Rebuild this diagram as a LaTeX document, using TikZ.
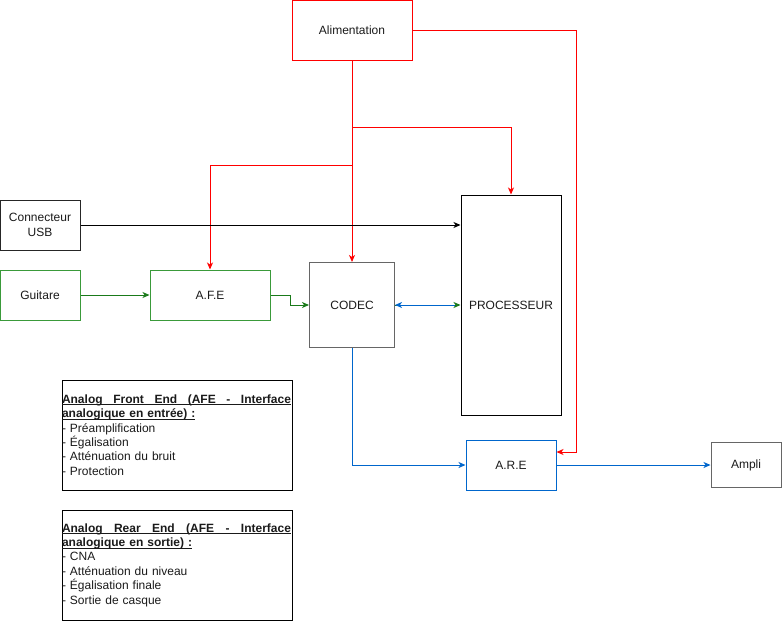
\documentclass[tikz,border=0pt]{standalone}
\usepackage{fontspec}
\setmainfont{Liberation Sans}
\usetikzlibrary{arrows.meta}
\definecolor{cred}{HTML}{FF0000}
\definecolor{cgreenbox}{HTML}{3A9A3A}
\definecolor{cgreen}{HTML}{1A7A1A}
\definecolor{cblue}{HTML}{0066CC}
\definecolor{cgray}{HTML}{666666}
\definecolor{ctext}{HTML}{1A1A1A}
\newcommand{\myul}[1]{\leavevmode\setbox0\hbox{#1}\rlap{\rule[-1.8pt]{\wd0}{0.8pt}}\box0}
\newcommand{\ulbox}[1]{\myul{\hbox to 229pt{#1}}}
\begin{document}
\begin{tikzpicture}[x=1pt,y=-1pt,
  font=\fontsize{12}{14.4}\selectfont,
  box/.style={draw, line width=1pt, rectangle, align=center, text=ctext, inner sep=2pt},
  note/.style={draw=black, line width=1pt, rectangle, text width=230pt, minimum height=110pt, inner sep=0pt, align=left, text=ctext},
  conn/.style={line width=1pt, -{Stealth[length=7pt,width=6pt,inset=2pt]}},
]
\useasboundingbox (0,0) rectangle (783,621);

\node[box, draw=cred, minimum width=120pt, minimum height=60pt] (alim) at (352,30) {Alimentation};
\node[box, draw=black!85, minimum width=80pt, minimum height=50pt] (usb) at (40,225) {Connecteur\\USB};
\node[box, draw=cgreenbox, minimum width=80pt, minimum height=50pt] (guit) at (40,295) {Guitare};
\node[box, draw=cgreenbox, minimum width=120pt, minimum height=50pt] (afe) at (210,295) {A.F.E};
\node[box, draw=cgray, minimum width=85pt, minimum height=85pt] (codec) at (352,305) {CODEC};
\node[box, draw=black, minimum width=100pt, minimum height=220pt] (proc) at (511,305) {PROCESSEUR};
\node[box, draw=cblue, minimum width=90pt, minimum height=50pt] (are) at (511,465) {A.R.E};
\node[box, draw=cgray, minimum width=70pt, minimum height=45pt] (ampli) at (746,465) {Ampli};

\node[note] (n1) at (177,435) {
{\bfseries\ulbox{Analog\hfill Front\hfill End\hfill (AFE\hfill -\hfill Interface}}\\
{\bfseries\myul{analogique en entrée) :}}\\
- Préamplification\\
- Égalisation\\
- Atténuation du bruit\\
- Protection};
\node[note] (n2) at (177,565) {
{\bfseries\ulbox{Analog\hfill Rear\hfill End\hfill (AFE\hfill -\hfill Interface}}\\
{\bfseries\myul{analogique en sortie) :}}\\
- CNA\\
- Atténuation du niveau\\
- Égalisation finale\\
- Sortie de casque};

% power lines
\coordinate (j1) at (352,127);
\coordinate (j2) at (352,165);
\coordinate (r1) at (576,30);
\draw[conn, cred] (alim.south) -- (codec.north);
\draw[conn, cred] (j1) -| (proc.north);
\draw[conn, cred] (j2) -| (afe.north);
\draw[conn, cred] (alim.east) -- (r1) |- ([yshift=13pt]are.east);

% signal lines
\draw[conn, black] (usb.east) -- (usb.east -| proc.west);
\draw[conn, cgreen] (guit.east) -- (afe.west);
\draw[conn, cgreen] (afe.east) -- ++(20,0) |- (codec.west);
\draw[conn, cgreen] (codec.east) -- (codec.east -| proc.west);
\draw[conn, cblue, shorten <=6pt] (codec.east -| proc.west) -- (codec.east);
\draw[conn, cblue] (codec.south) |- (are.west);
\draw[conn, cblue] (are.east) -- (ampli.west);
\end{tikzpicture}
\end{document}
